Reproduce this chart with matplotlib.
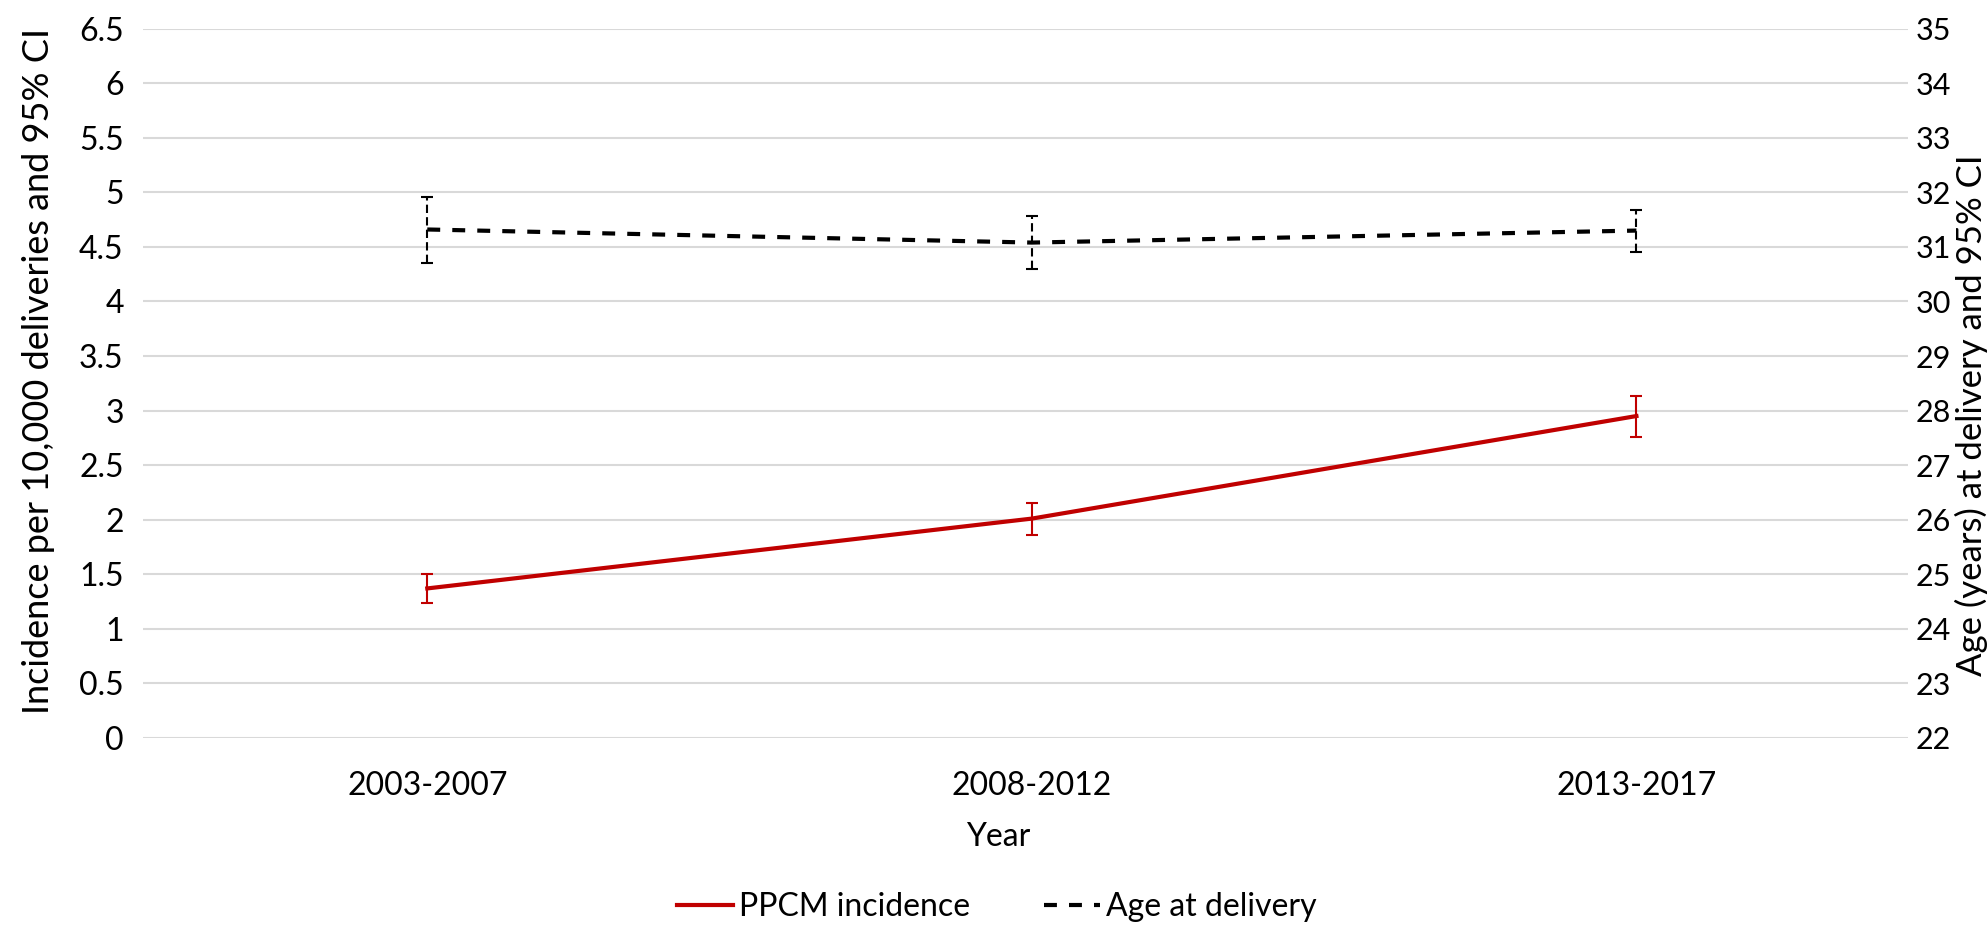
import matplotlib
matplotlib.use("Agg")
import matplotlib.pyplot as plt
import numpy as np
from matplotlib.lines import Line2D

plt.rcParams["font.family"] = ["Lato", "DejaVu Sans"]

periods = ["2003-2007", "2008-2012", "2013-2017"]

# PPCM incidence per 10,000 deliveries with 95% CI
ppcm = [1.37, 2.01, 2.95]
ppcm_lo = [1.24, 1.86, 2.76]
ppcm_hi = [1.50, 2.15, 3.13]

# mean age at delivery (years) with 95% CI
age = [31.32, 31.08, 31.30]
age_lo = [30.70, 30.60, 30.90]
age_hi = [31.92, 31.56, 31.68]

x = np.arange(len(periods))
fs = 23
dash = (0, (3.1, 2.9))

fig = plt.figure(figsize=(19.88, 9.27), dpi=100)
ax = fig.add_axes([0.072, 0.204, 0.888, 0.765])
ax2 = ax.twinx()

ax.set_ylim(0, 6.5)
ax.set_yticks(np.arange(0, 6.51, 0.5))
ax.set_yticklabels([f"{v:g}" for v in np.arange(0, 6.51, 0.5)])
ax2.set_ylim(22, 35)
ax2.set_yticks(np.arange(22, 36, 1))

ax.grid(axis="y", color="#d9d9d9", lw=1.5)
ax.set_axisbelow(True)
for a in (ax, ax2):
    for s in a.spines.values():
        s.set_visible(False)
    a.tick_params(length=0, labelsize=fs)
ax.tick_params(axis="y", pad=14)
ax2.tick_params(axis="y", pad=5, labelsize=22)

red = "#c00000"
ax.errorbar(x, ppcm, yerr=[np.subtract(ppcm, ppcm_lo), np.subtract(ppcm_hi, ppcm)],
            color=red, lw=3, elinewidth=1.5, capsize=4, capthick=1.5, zorder=3)

eb = ax2.errorbar(x, age, yerr=[np.subtract(age, age_lo), np.subtract(age_hi, age)],
                  color="black", lw=3, ls=dash, elinewidth=1.5, capsize=4,
                  capthick=1.5, zorder=3)
eb[-1][0].set_linestyle((0, (4, 2)))

ax.set_xlim(-0.47, 2.45)
ax.set_xticks(x)
ax.set_xticklabels(periods)
ax.tick_params(axis="x", pad=24)

ax.set_xlabel("Year", fontsize=fs)
ax.xaxis.set_label_coords(0.4845, -0.118)
ax.set_ylabel("Incidence per 10,000 deliveries and 95% CI", fontsize=26)
ax.yaxis.set_label_coords(-0.0499, 0.517)
ax2.set_ylabel("Age (years) at delivery and 95% CI", fontsize=25)
ax2.yaxis.set_label_coords(1.026, 0.455)

handles = [Line2D([], [], color=red, lw=3),
           Line2D([], [], color="black", lw=3, ls=dash)]
fig.legend(handles, ["PPCM incidence", "Age at delivery"], loc="center",
           bbox_to_anchor=(0.5015, 0.0216), ncol=2, frameon=False, fontsize=fs,
           handlelength=1.75, handletextpad=0.2, columnspacing=2.3)

fig.savefig("out.png", dpi=100, facecolor="white")
